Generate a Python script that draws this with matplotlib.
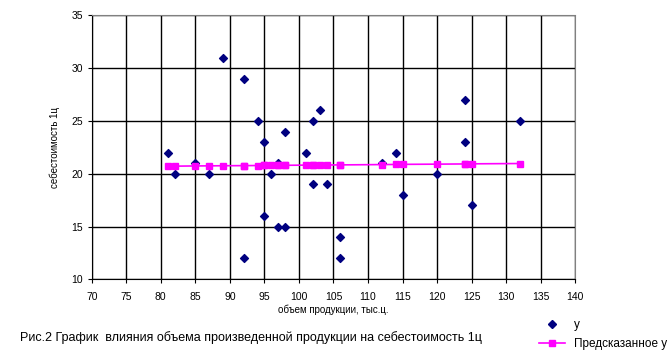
import matplotlib
matplotlib.use("Agg")
import matplotlib.pyplot as plt
from matplotlib.lines import Line2D

plt.rcParams['font.family'] = ['Liberation Sans', 'DejaVu Sans']

# объем продукции (x) и себестоимость (y)
volume = [81, 82, 85, 87, 89, 92, 92, 94, 95, 95, 96, 97, 97, 98, 98,
          101, 102, 102, 103, 104, 106, 106, 112, 114, 115, 120, 124, 124, 125, 132]
cost = [22, 20, 21, 20, 31, 29, 12, 25, 23, 16, 20, 21, 15, 24, 15,
        22, 25, 19, 26, 19, 14, 12, 21, 22, 18, 20, 27, 23, 17, 25]
# предсказанные значения
predicted = [20.72, 20.72, 20.74, 20.75, 20.76, 20.77, 20.77, 20.78, 20.79, 20.79,
             20.79, 20.80, 20.80, 20.80, 20.80, 20.82, 20.82, 20.82, 20.83, 20.83,
             20.84, 20.84, 20.87, 20.88, 20.89, 20.91, 20.93, 20.93, 20.94, 20.97]

fig = plt.figure(figsize=(6.71, 3.59), dpi=100)
ax = fig.add_axes([0.1367, 0.222, 0.7206, 0.735])

ax.grid(True, color="black", linewidth=1.0)
ax.set_axisbelow(True)
ax.scatter(volume, cost, marker="D", s=16, color="#000080", zorder=3, label="у")
ax.plot(volume, predicted, color="#FF00FF", marker="s", markersize=5,
        linewidth=1.2, zorder=4, label="Предсказанное у")

ax.set_xlim(70, 140)
ax.set_ylim(10, 35)
ax.set_xticks(range(70, 141, 5))
ax.set_yticks(range(10, 36, 5))
ax.tick_params(labelsize=7.5, length=3, direction="out", width=0.8)
ax.tick_params(axis="x", pad=6)

for side in ["top", "right"]:
    ax.spines[side].set_color("gray")
    ax.spines[side].set_linestyle((0, (1, 1)))
for side in ["left", "bottom"]:
    ax.spines[side].set_color("black")

ax.set_xlabel("объем продукции, тыс.ц.", fontsize=7)
ax.xaxis.set_label_coords(0.5, -0.095)
ax.set_ylabel("себестоимость 1ц", fontsize=7)
ax.yaxis.set_label_coords(-0.065, 0.5)

fig.text(0.03, 0.05, "Рис.2 График  влияния объема произведенной продукции на себестоимость 1ц",
         fontsize=9)

handles = [Line2D([], [], marker="D", color="#000080", linestyle="none", markersize=4),
           Line2D([], [], marker="s", color="#FF00FF", markersize=4, linewidth=1.2)]
fig.legend(handles, ["у", "Предсказанное у"], loc="lower left",
           bbox_to_anchor=(0.787, -0.005), frameon=False, fontsize=8.5,
           handlelength=2.2, labelspacing=0.6)

fig.savefig("out.png", dpi=100)
